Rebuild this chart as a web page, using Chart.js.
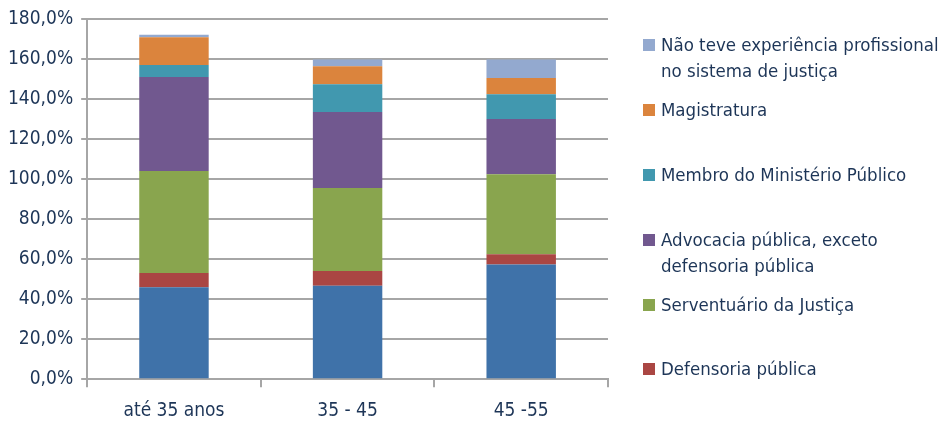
<!DOCTYPE html>
<html>
<head>
<meta charset="utf-8">
<script src="https://cdn.jsdelivr.net/npm/chart.js@4/dist/chart.umd.min.js"></script>
<style>
  html, body { margin: 0; padding: 0; background: #fff; overflow: hidden; }
  #wrap { position: relative; width: 947px; height: 422px; overflow: hidden; }
  #c { position: absolute; left: 0; top: 0; }
  #legend { position: absolute; left: 0; top: 0; width: 947px; height: 422px; pointer-events: none; }
  .item { position: absolute; left: 643px; display: flex; align-items: flex-start;
          font-family: "Liberation Sans Narrow", "DejaVu Sans Condensed", sans-serif;
          font-size: 18.5px; line-height: 26px; color: #1d3557; }
  .sw { width: 12px; height: 12px; margin-top: 7px; margin-right: 6px; flex: none; }
</style>
</head>
<body>
<div id="wrap">
  <canvas id="c" width="947" height="436"></canvas>
  <div id="legend"></div>
</div>
<script>
const categories = ["até 35 anos", "35 - 45", "45 -55"];
const yTicks = [0, 20, 40, 60, 80, 100, 120, 140, 160, 180];

const advocaciaPrivada   = [46.0, 46.8, 57.4];
const defensoriaPublica  = [7.1, 7.3, 5.1];
const serventuario       = [51.1, 41.6, 40.0];
const advocaciaPublica   = [47.0, 38.0, 27.7];
const ministerioPublico  = [6.0, 13.9, 12.4];
const magistratura       = [13.9, 9.0, 8.1];
const semExperiencia     = [1.2, 3.4, 9.3];

const seriesLabels = [
  "Advocacia privada",
  "Defensoria pública",
  "Serventuário da Justiça",
  ["Advocacia pública, exceto", "defensoria pública"],
  "Membro do Ministério Público",
  "Magistratura",
  ["Não teve experiência profissional", "no sistema de justiça"]
];
const seriesData = [advocaciaPrivada, defensoriaPublica, serventuario, advocaciaPublica, ministerioPublico, magistratura, semExperiencia];
const seriesColors = ["#3f72a9", "#aa4643", "#89a54e", "#71588f", "#4198af", "#db843d", "#93a9cf"];
const legendShown = [false, true, true, true, true, true, true];

const FONT = "'Liberation Sans Narrow', 'DejaVu Sans Condensed', sans-serif";
const TEXT = "#1d3557";
const GRID = "#a6a6a6";

const datasets = seriesData.map((d, i) => ({
  label: Array.isArray(seriesLabels[i]) ? seriesLabels[i].join(" ") : seriesLabels[i],
  data: d,
  backgroundColor: seriesColors[i],
  borderWidth: 0,
  barPercentage: 0.4,
  categoryPercentage: 1.0
}));

new Chart(document.getElementById("c"), {
  type: "bar",
  data: { labels: categories, datasets },
  options: {
    responsive: false,
    animation: false,
    devicePixelRatio: 1,
    layout: { padding: { left: 0, right: 339, top: 4, bottom: 2 } },
    plugins: { legend: { display: false }, tooltip: { enabled: false } },
    scales: {
      x: {
        stacked: true,
        offset: true,
        grid: { display: true, drawOnChartArea: false, offset: true, color: GRID, lineWidth: 2, tickLength: 8, tickColor: GRID },
        border: { display: true, color: GRID, width: 2 },
        ticks: { font: { family: FONT, size: 19 }, color: TEXT, padding: 12 }
      },
      y: {
        stacked: true,
        min: 0, max: 180,
        afterBuildTicks: (ax) => { ax.ticks = yTicks.map(v => ({ value: v })); },
        grid: { color: GRID, lineWidth: 2, tickLength: 6, tickColor: GRID },
        border: { display: true, color: GRID, width: 2 },
        ticks: {
          font: { family: FONT, size: 19 }, color: TEXT, padding: 8,
          callback: (v) => v.toFixed(1).replace(".", ",") + "%"
        }
      }
    }
  }
});

// HTML legend (reverse order, as in the reference)
const legendTops = [32, 97, 162, 227, 292, 356];
const legend = document.getElementById("legend");
let k = 0;
for (let i = seriesData.length - 1; i >= 0; i--) {
  if (!legendShown[i]) continue;
  const item = document.createElement("div");
  item.className = "item";
  item.style.top = legendTops[k++] + "px";
  const sw = document.createElement("div");
  sw.className = "sw";
  sw.style.background = seriesColors[i];
  const txt = document.createElement("div");
  const lab = seriesLabels[i];
  txt.innerHTML = (Array.isArray(lab) ? lab : [lab]).join("<br>");
  item.appendChild(sw);
  item.appendChild(txt);
  legend.appendChild(item);
}
</script>
</body>
</html>
